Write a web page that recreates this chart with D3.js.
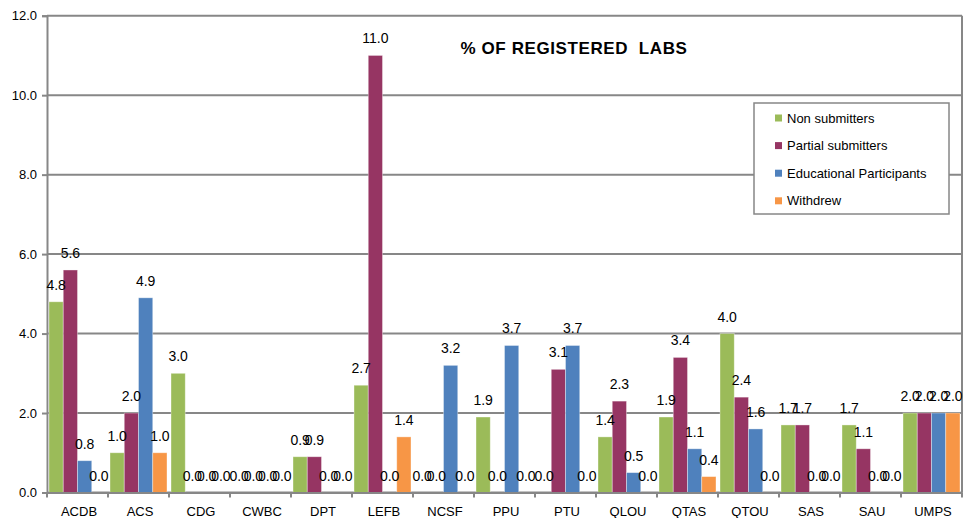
<!DOCTYPE html>
<html>
<head>
<meta charset="utf-8">
<script src="https://cdn.jsdelivr.net/npm/d3@7"></script>
<style>
  html, body { margin: 0; padding: 0; background: #fff; }
  svg { display: block; font-family: "Liberation Sans", Arial, sans-serif; }
</style>
</head>
<body>
<svg id="chart" width="970" height="518"></svg>
<script>
// Lab codes along the x axis
const categories = ["ACDB", "ACS", "CDG", "CWBC", "DPT", "LEFB", "NCSF", "PPU", "PTU", "QLOU", "QTAS", "QTOU", "SAS", "SAU", "UMPS"];

// Percentage of registered labs per group
const nonSubmitters      = [4.8, 1.0, 3.0, 0.0, 0.9, 2.7, 0.0, 1.9, 0.0, 1.4, 1.9, 4.0, 1.7, 1.7, 2.0];
const partialSubmitters  = [5.6, 2.0, 0.0, 0.0, 0.9, 11.0, 0.0, 0.0, 3.1, 2.3, 3.4, 2.4, 1.7, 1.1, 2.0];
const educational        = [0.8, 4.9, 0.0, 0.0, 0.0, 0.0, 3.2, 3.7, 3.7, 0.5, 1.1, 1.6, 0.0, 0.0, 2.0];
const withdrew           = [0.0, 1.0, 0.0, 0.0, 0.0, 1.4, 0.0, 0.0, 0.0, 0.0, 0.4, 0.0, 0.0, 0.0, 2.0];

const seriesNames  = ["Non submitters", "Partial submitters", "Educational Participants", "Withdrew"];
const seriesValues = [nonSubmitters, partialSubmitters, educational, withdrew];
const seriesColors = ["#9bbb59", "#963563", "#4f81bd", "#f79646"];

const yTicks = [0, 2, 4, 6, 8, 10, 12];
const title = "% OF REGISTERED  LABS";

const svg = d3.select("#chart");
const plot = { left: 47, right: 962, top: 15.7, bottom: 492.5 };
const gridColor = "#878787";

const x = d3.scaleBand().domain(categories).range([plot.left, plot.right]).paddingInner(0).paddingOuter(0);
const xs = d3.scaleBand().domain(d3.range(seriesNames.length)).range([2, x.bandwidth() - 2]).padding(0);
const y = d3.scaleLinear().domain([0, 12]).range([plot.bottom, plot.top]);

// Horizontal gridlines
svg.append("g")
  .selectAll("line")
  .data(yTicks)
  .join("line")
  .attr("x1", plot.left).attr("x2", plot.right)
  .attr("y1", d => y(d)).attr("y2", d => y(d))
  .attr("stroke", gridColor).attr("stroke-width", 2);

// Right border of the plot area
svg.append("line")
  .attr("x1", plot.right).attr("x2", plot.right)
  .attr("y1", plot.top).attr("y2", plot.bottom)
  .attr("stroke", gridColor).attr("stroke-width", 2);

// Y axis
const yAxis = d3.axisLeft(y).tickValues(yTicks).tickFormat(d3.format(".1f")).tickSize(5).tickPadding(5);
const gy = svg.append("g").attr("transform", `translate(${plot.left},0)`).call(yAxis);
gy.select(".domain").attr("stroke", gridColor).attr("stroke-width", 2);
gy.selectAll(".tick line").attr("stroke", gridColor).attr("stroke-width", 2);
gy.selectAll(".tick text").attr("font-size", 13).attr("fill", "#000")
  .attr("font-family", "'Liberation Sans', Arial, sans-serif");

// Bars
const groups = svg.append("g")
  .selectAll("g")
  .data(categories)
  .join("g")
  .attr("transform", d => `translate(${x(d)},0)`);

groups.selectAll("rect")
  .data((d, i) => seriesValues.map((vals, s) => ({ s, v: vals[i] })))
  .join("rect")
  .attr("x", d => xs(d.s))
  .attr("width", xs.bandwidth())
  .attr("y", d => y(d.v))
  .attr("height", d => y(0) - y(d.v))
  .attr("fill", d => seriesColors[d.s])
  .attr("stroke", "rgba(255,255,255,0.45)")
  .attr("stroke-width", 0.8);

// Value labels above each bar
groups.selectAll("text")
  .data((d, i) => seriesValues.map((vals, s) => ({ s, v: vals[i] })))
  .join("text")
  .attr("x", d => xs(d.s) + xs.bandwidth() / 2)
  .attr("y", d => y(d.v) - 12)
  .attr("text-anchor", "middle")
  .attr("font-size", 14)
  .attr("fill", "#000")
  .text(d => d3.format(".1f")(d.v));

// X axis
const xAxis = d3.axisBottom(x).tickSize(0).tickPadding(14);
const gx = svg.append("g").attr("transform", `translate(0,${plot.bottom})`).call(xAxis);
gx.select(".domain").attr("stroke", gridColor).attr("stroke-width", 2);
gx.selectAll(".tick text").attr("font-size", 13).attr("fill", "#000")
  .attr("dx", 1.5)
  .attr("font-family", "'Liberation Sans', Arial, sans-serif");

// Tick marks at category boundaries
svg.append("g")
  .selectAll("line")
  .data(d3.range(categories.length + 1))
  .join("line")
  .attr("x1", i => plot.left + i * x.step())
  .attr("x2", i => plot.left + i * x.step())
  .attr("y1", plot.bottom).attr("y2", plot.bottom + 5)
  .attr("stroke", gridColor).attr("stroke-width", 2);

// Title
svg.append("text")
  .attr("x", 574).attr("y", 54)
  .attr("text-anchor", "middle")
  .attr("font-size", 17)
  .attr("font-weight", "bold")
  .attr("letter-spacing", 0.6)
  .attr("fill", "#000")
  .style("white-space", "pre")
  .text(title);

// Legend
const legend = svg.append("g");
legend.append("rect")
  .attr("x", 754).attr("y", 103).attr("width", 195).attr("height", 111)
  .attr("fill", "#fff").attr("stroke", gridColor).attr("stroke-width", 1.5);

const li = legend.selectAll("g.item")
  .data(seriesNames)
  .join("g")
  .attr("class", "item")
  .attr("transform", (d, i) => `translate(775,${118 + i * 27.6})`);
li.append("rect")
  .attr("x", 0).attr("y", -3.5).attr("width", 7).attr("height", 7)
  .attr("fill", (d, i) => seriesColors[i]);
li.append("text")
  .attr("x", 12).attr("y", 0).attr("dy", "0.35em")
  .attr("font-size", 13).attr("fill", "#000")
  .text(d => d);
</script>
</body>
</html>
